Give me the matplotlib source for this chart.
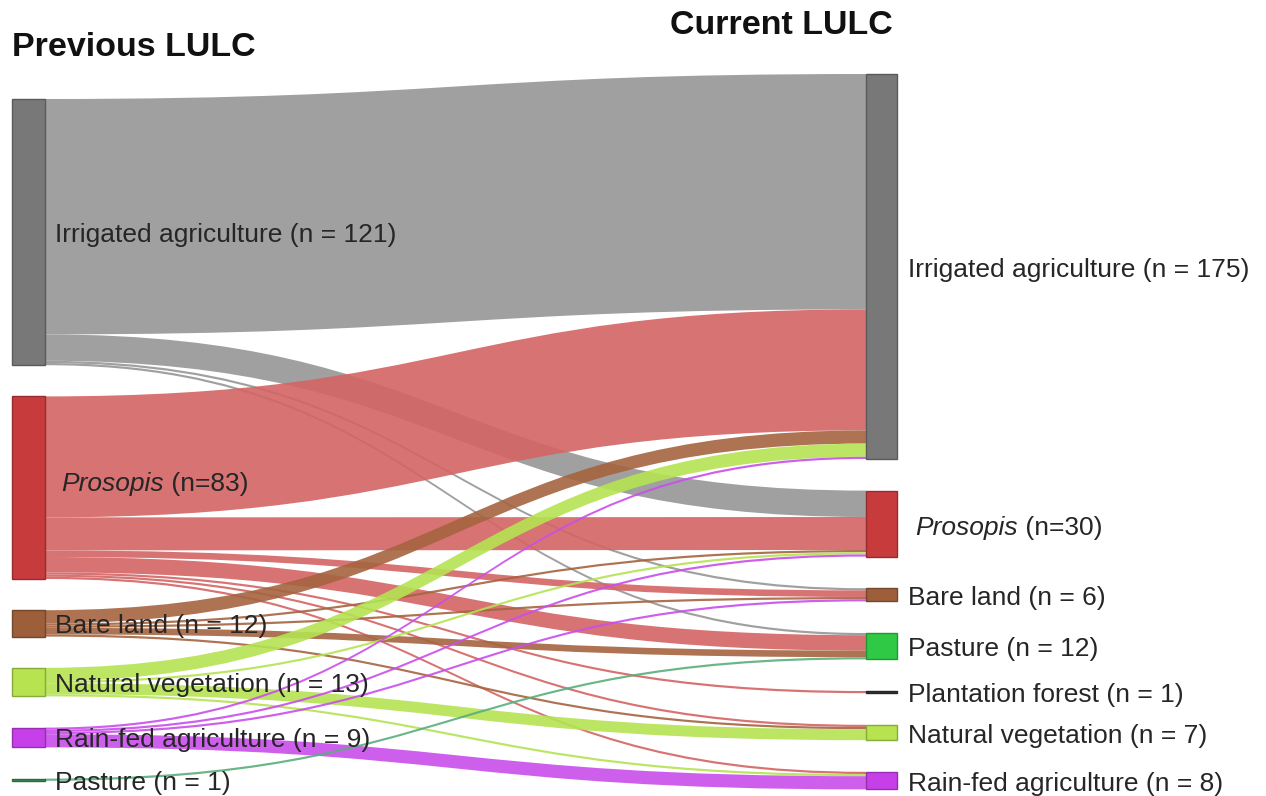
import matplotlib
matplotlib.use("Agg")
import matplotlib.pyplot as plt
from matplotlib.path import Path
from matplotlib.patches import PathPatch, Rectangle
import numpy as np

plt.rcParams['font.family'] = ['Liberation Sans', 'DejaVu Sans']

# ---------------- data ----------------
source_names = ['Irrigated agriculture', 'Prosopis', 'Bare land',
                'Natural vegetation', 'Rain-fed agriculture', 'Pasture']
target_names = ['Irrigated agriculture', 'Prosopis', 'Bare land', 'Pasture',
                'Plantation forest', 'Natural vegetation', 'Rain-fed agriculture']
source_labels = ['Irrigated agriculture (n = 121)', 'Prosopis (n=83)', 'Bare land (n = 12)',
                 'Natural vegetation (n = 13)', 'Rain-fed agriculture (n = 9)', 'Pasture (n = 1)']
target_labels = ['Irrigated agriculture (n = 175)', 'Prosopis (n=30)', 'Bare land (n = 6)',
                 'Pasture (n = 12)', 'Plantation forest (n = 1)', 'Natural vegetation (n = 7)',
                 'Rain-fed agriculture (n = 8)']
# rows: previous LULC, columns: current LULC
flow_irrigated = [107, 12, 1, 1, 0, 0, 0]
flow_prosopis  = [55, 15, 3, 7, 1, 1, 1]
flow_bare      = [6, 1, 1, 3, 0, 1, 0]
flow_natveg    = [6, 1, 0, 0, 0, 5, 1]
flow_rainfed   = [1, 1, 1, 0, 0, 0, 6]
flow_pasture   = [0, 0, 0, 1, 0, 0, 0]

flows = np.array([flow_irrigated, flow_prosopis, flow_bare,
                  flow_natveg, flow_rainfed, flow_pasture], dtype=float)

# ---------------- styling ----------------
src_node_col = ['#787878', '#c73b3d', '#9c5f3a', '#b6e34f', '#c63fe8', '#3d8c55']
src_link_col = ['#969696', '#d46464', '#a5643f', '#b5e352', '#c94eec', '#5aae7c']
tgt_node_col = ['#787878', '#c73b3d', '#9c5f3a', '#2fc946', '#333333', '#b6e34f', '#c63fe8']

W, H = 1266, 796
fig = plt.figure(figsize=(W / 100, H / 100), dpi=100)
ax = fig.add_axes([0, 0, 1, 1])
ax.set_xlim(0, W)
ax.set_ylim(H, 0)
ax.axis('off')

k = 2.2            # pixels per unit
gap_l, gap_r = 31.2, 31.6
lx0, lx1 = 12, 45
rx0, rx1 = 866, 897
ltop, rtop = 99, 74

src_tot = flows.sum(axis=1)
tgt_tot = flows.sum(axis=0)

src_y = []
y = ltop
for v in src_tot:
    src_y.append(y)
    y += v * k + gap_l
tgt_y = []
y = rtop
for v in tgt_tot:
    tgt_y.append(y)
    y += v * k + gap_r

src_off = list(src_y)
tgt_off = list(tgt_y)
links = []
for i in range(len(source_names)):
    for j in range(len(target_names)):
        v = flows[i, j]
        if v <= 0:
            continue
        links.append((i, j, v, src_off[i], tgt_off[j]))
        src_off[i] += v * k
        tgt_off[j] += v * k

xm = (lx1 + rx0) / 2
for (i, j, v, ya, yb) in links:
    h = v * k
    verts = [(lx1, ya), (xm, ya), (xm, yb), (rx0, yb),
             (rx0, yb + h), (xm, yb + h), (xm, ya + h), (lx1, ya + h), (lx1, ya)]
    codes = [Path.MOVETO, Path.CURVE4, Path.CURVE4, Path.CURVE4,
             Path.LINETO, Path.CURVE4, Path.CURVE4, Path.CURVE4, Path.CLOSEPOLY]
    ax.add_patch(PathPatch(Path(verts, codes), facecolor=src_link_col[i],
                           edgecolor='none', alpha=0.9, zorder=1))

def darker(c, f=0.75):
    rgb = np.array(matplotlib.colors.to_rgb(c))
    return tuple(rgb * f)

for i, v in enumerate(src_tot):
    ax.add_patch(Rectangle((lx0, src_y[i]), lx1 - lx0, v * k,
                           facecolor=src_node_col[i], edgecolor=darker(src_node_col[i]),
                           lw=1, zorder=3))
for j, v in enumerate(tgt_tot):
    ax.add_patch(Rectangle((rx0, tgt_y[j]), rx1 - rx0, v * k,
                           facecolor=tgt_node_col[j], edgecolor=darker(tgt_node_col[j]),
                           lw=1, zorder=3))

fs = 19
tc = '#262626'

def label(x, yc, text, italic_first=None):
    if italic_first:
        rest = text[len(italic_first):]
        t1 = ax.text(x, yc, italic_first, fontsize=fs, color=tc, style='italic',
                     va='center', ha='left', zorder=5)
        ax.annotate(rest, xy=(1, 0.5), xycoords=t1, va='center', ha='left',
                    fontsize=fs, color=tc, zorder=5)
    else:
        ax.text(x, yc, text, fontsize=fs, color=tc, va='center', ha='left', zorder=5)

for i, v in enumerate(src_tot):
    yc = src_y[i] + v * k / 2
    if source_names[i] == 'Prosopis':
        label(61, yc - 4, source_labels[i], 'Prosopis')
    else:
        label(55, yc + 3, source_labels[i])
for j, v in enumerate(tgt_tot):
    yc = tgt_y[j] + v * k / 2
    if target_names[j] == 'Prosopis':
        label(915, yc + 4, target_labels[j], 'Prosopis')
    else:
        label(908, yc + 3, target_labels[j])

ax.text(12, 47, 'Previous LULC', fontsize=24.5, fontweight='bold', color='#111111',
        va='center', ha='left')
ax.text(670, 26, 'Current LULC', fontsize=24.5, fontweight='bold', color='#111111',
        va='center', ha='left')

fig.savefig('out.png', dpi=100, facecolor='white')
